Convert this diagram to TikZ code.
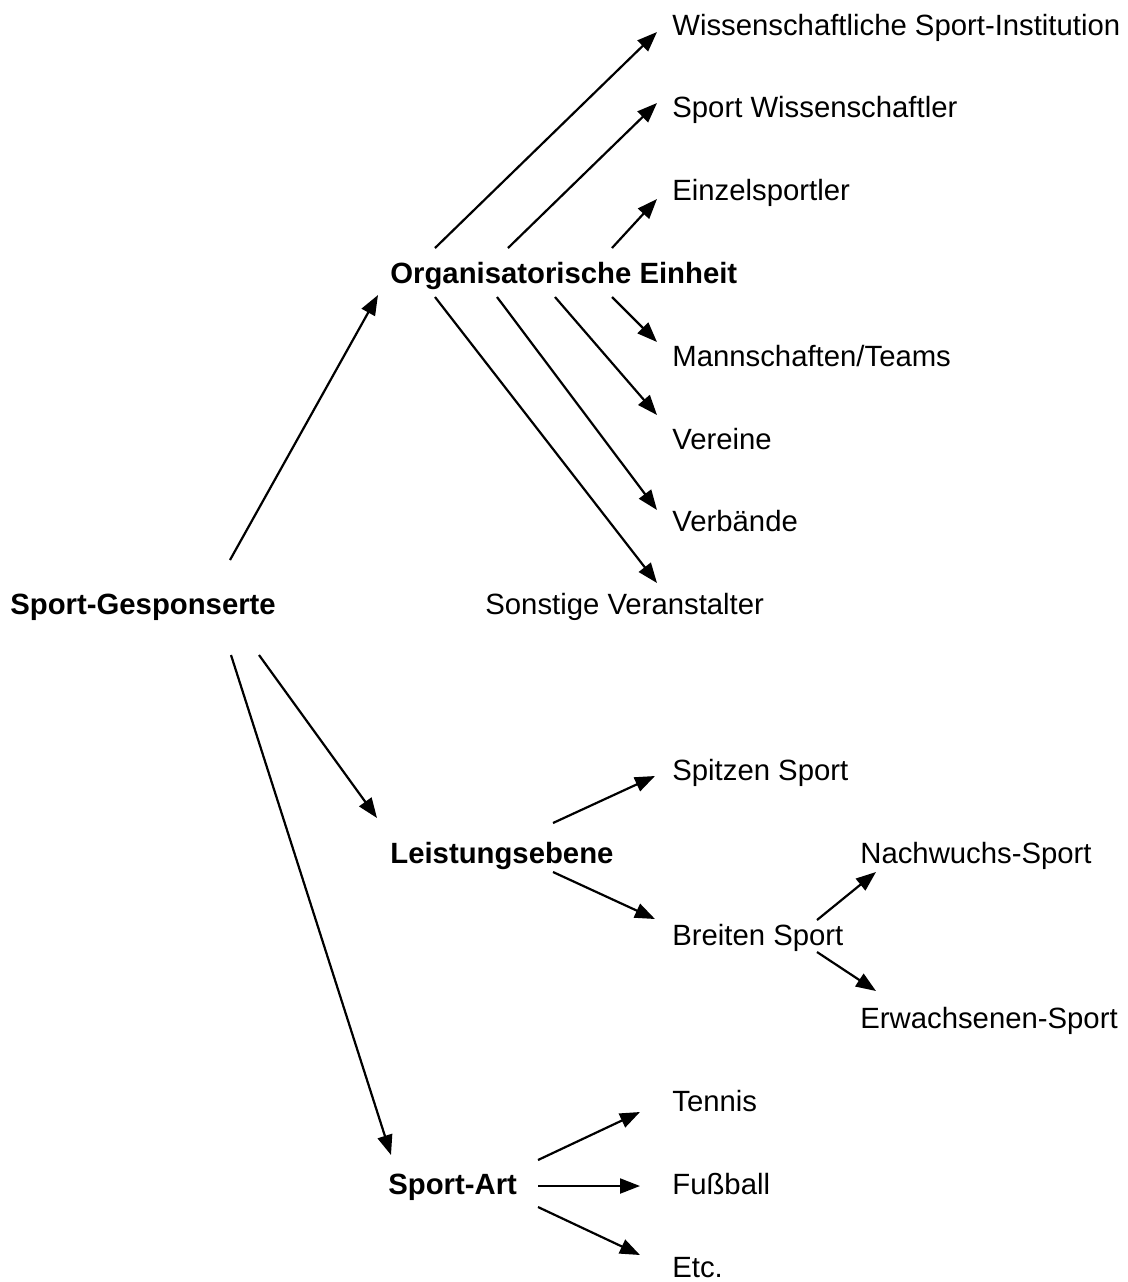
\documentclass[tikz,border=0pt]{standalone}
\usepackage{fontspec}
\setmainfont{Liberation Sans}
\usetikzlibrary{arrows.meta}

% connector from an offset of one node's base west to an offset of another's
\newcommand{\link}[6]{%
  \draw[arr] ([shift={(#2,#3)}]#1.base west) -- ([shift={(#5,#6)}]#4.base west);}

\begin{document}
\begin{tikzpicture}[x=0.5pt,y=-0.5pt,
  lbl/.style={anchor=base west,inner sep=0pt,font=\fontsize{14.65}{17}\selectfont},
  head/.style={lbl,font=\fontsize{14.65}{17}\selectfont\bfseries},
  arr/.style={line width=1.1pt,-{Triangle[length=10pt,width=7.5pt]}}]
\useasboundingbox[fill=white] (0,0) rectangle (1128,1282);

% root and the three main branches
\node[head] (gesp)  at (10,614.6)   {Sport-Gesponserte};
\node[head] (org)   at (390,283.4)  {Organisatorische Einheit};
\node[head] (leist) at (390,863)    {Leistungsebene};
\node[head] (art)   at (388,1194.2) {Sport-Art};

% organisational units
\node[lbl] (wis)   at (672,35)    {Wissenschaftliche Sport-Institution};
\node[lbl] (swi)   at (672,117.8) {Sport Wissenschaftler};
\node[lbl] (einz)  at (672,200.6) {Einzelsportler};
\node[lbl] (mann)  at (672,366.2) {Mannschaften/Teams};
\node[lbl] (ver)   at (672,449)   {Vereine};
\node[lbl] (verb)  at (672,531.8) {Verbände};
\node[lbl] (sonst) at (485,614.6) {Sonstige Veranstalter};

% performance levels
\node[lbl] (spitz) at (672,780.2)  {Spitzen Sport};
\node[lbl] (breit) at (672,945.8)  {Breiten Sport};
\node[lbl] (nach)  at (860,863)    {Nachwuchs-Sport};
\node[lbl] (erw)   at (860,1028.6) {Erwachsenen-Sport};

% kinds of sport
\node[lbl] (ten)  at (672,1111.4) {Tennis};
\node[lbl] (fuss) at (672,1194.2) {Fußball};
\node[lbl] (etc)  at (672,1277)   {Etc.};

% root connectors
\link{gesp}{220}{-54.6}{org}{-12}{11.6}
\link{gesp}{249}{40.4}{leist}{-13}{-45}
\link{gesp}{221}{40.4}{art}{3}{-39.2}

% organisational connectors
\link{org}{45}{-35.4}{wis}{-15}{-3}
\link{org}{118}{-35.4}{swi}{-15}{-14.8}
\link{org}{222}{-35.4}{einz}{-15}{-1.6}
\link{org}{222}{13.6}{mann}{-15}{-24.2}
\link{org}{165}{13.6}{ver}{-15}{-34}
\link{org}{107}{13.6}{verb}{-15}{-21.8}
\link{org}{45}{13.6}{sonst}{172}{-31.6}

% performance-level connectors
\link{leist}{163}{-40}{spitz}{-17}{-4.2}
\link{leist}{163}{9}{breit}{-17}{-26.8}
\link{breit}{145}{-25.8}{nach}{16}{9}
\link{breit}{145}{6.2}{erw}{16}{-37.6}

% sport-kind connectors
\link{art}{150}{-34.2}{ten}{-32}{0.6}
\link{art}{150}{-8.2}{fuss}{-32}{-8.2}
\link{art}{150}{12.8}{etc}{-32}{-22}
\end{tikzpicture}
\end{document}
